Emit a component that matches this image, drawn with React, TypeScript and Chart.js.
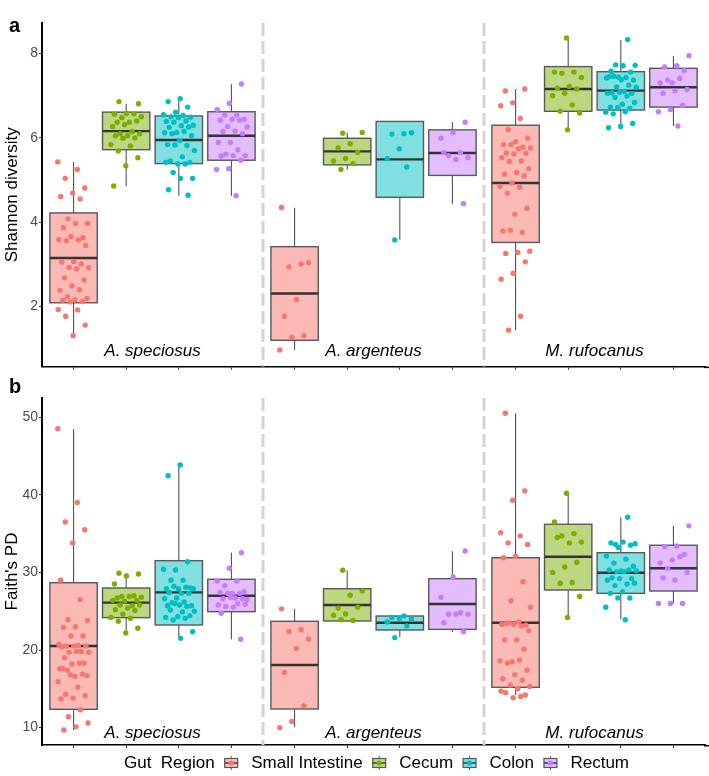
import React, { useEffect, useRef } from 'react';
import { Chart, registerables } from 'chart.js';

Chart.register(...registerables);

const FONT = '"Liberation Sans", Arial, Helvetica, sans-serif';

// ---------- categories ----------
const species = ['A. speciosus', 'A. argenteus', 'M. rufocanus'];
const regions = ['Small Intestine', 'Cecum', 'Colon', 'Rectum'];
const regionColors = ['#F8766D', '#7CAE00', '#00BFC4', '#C77CFF'];
const regionFills = ['rgba(248,118,109,0.5)', 'rgba(124,174,0,0.5)', 'rgba(0,191,196,0.5)', 'rgba(199,124,255,0.5)'];

// ---------- axis ticks / ranges ----------
const shannonTicks = [2, 4, 6, 8];
const shannonRange = [0.576, 8.724];
const faithTicks = [10, 20, 30, 40, 50];
const faithRange = [7.76, 52.47];

// ---------- Shannon diversity: box stats [lower whisker, Q1, median, Q3, upper whisker] per species ----------
const shannonBoxSI = [[1.31, 2.09, 3.15, 4.22, 5.43], [0.97, 1.2, 2.31, 3.42, 4.34], [1.44, 3.52, 4.93, 6.3, 7.16]];
const shannonBoxCecum = [[4.86, 5.72, 6.16, 6.61, 6.81], [5.25, 5.36, 5.68, 5.99, 6.12], [6.2, 6.63, 7.16, 7.69, 8.37]];
const shannonBoxColon = [[4.63, 5.39, 5.95, 6.52, 6.89], [3.59, 4.59, 5.49, 6.39, 6.39], [6.23, 6.66, 7.12, 7.57, 8.32]];
const shannonBoxRectum = [[4.63, 5.47, 6.05, 6.62, 7.27], [4.44, 5.11, 5.64, 6.19, 6.37], [6.28, 6.73, 7.2, 7.65, 7.94]];

// ---------- Shannon diversity: sample values per species ----------
const shannonPtsSI = [
  [5.43, 5.25, 5.04, 4.81, 4.69, 4.61, 4.55, 4.08, 3.97, 3.97, 3.87, 3.63, 3.66, 3.59, 3.58, 3.56, 3.45, 3.07, 3.05, 3.01, 2.93, 2.92, 2.89, 2.68, 2.63, 2.49, 2.38, 2.4, 2.23, 2.19, 2.16, 2.15, 2.12, 2.11, 1.93, 1.92, 1.77, 1.56, 1.31],
  [4.35, 3.01, 2.94, 3.04, 2.16, 1.77, 1.31, 1.27, 0.97],
  [7.11, 7.16, 6.83, 6.76, 6.46, 6.2, 5.99, 5.91, 5.84, 5.78, 5.84, 5.76, 5.74, 5.64, 5.63, 5.62, 5.53, 5.45, 5.44, 5.27, 5.18, 5.14, 5.1, 4.93, 4.85, 4.83, 4.69, 4.33, 4.19, 3.79, 3.76, 3.81, 3.31, 3.28, 3.26, 3.06, 2.79, 2.65, 1.77, 1.44],
];
const shannonPtsCecum = [
  [6.86, 6.81, 6.58, 6.56, 6.57, 6.48, 6.5, 6.37, 6.37, 6.4, 6.31, 6.27, 6.15, 6.1, 6.1, 6.05, 6.05, 6.0, 5.99, 5.84, 5.81, 5.69, 5.53, 5.34, 4.86],
  [6.11, 6.13, 5.86, 5.76, 5.66, 5.51, 5.45, 5.39, 5.25],
  [8.37, 7.56, 7.56, 7.53, 7.43, 7.22, 7.18, 7.16, 7.06, 7.0, 6.78, 6.63, 6.59, 6.19],
];
const shannonPtsColon = [
  [6.93, 6.86, 6.73, 6.61, 6.55, 6.53, 6.5, 6.49, 6.48, 6.39, 6.4, 6.37, 6.3, 6.29, 6.25, 6.26, 6.13, 6.12, 6.15, 6.1, 6.05, 5.94, 5.84, 5.82, 5.83, 5.7, 5.55, 5.45, 5.42, 5.38, 5.42, 5.38, 5.18, 5.04, 5.04, 4.77, 4.64],
  [6.1, 6.09, 6.12, 5.74, 5.51, 5.31, 3.58],
  [8.33, 7.73, 7.72, 7.71, 7.58, 7.56, 7.44, 7.42, 7.43, 7.46, 7.37, 7.38, 7.45, 7.25, 7.21, 7.2, 7.1, 7.07, 7.05, 7.08, 7.06, 6.99, 6.96, 6.84, 6.8, 6.73, 6.7, 6.72, 6.61, 6.62, 6.57, 6.34, 6.27, 6.24],
];
const shannonPtsRectum = [
  [7.28, 6.82, 6.67, 6.54, 6.54, 6.44, 6.44, 6.42, 6.42, 6.27, 6.26, 6.16, 6.15, 6.1, 5.89, 5.89, 5.72, 5.61, 5.58, 5.58, 5.57, 5.47, 5.27, 5.25, 4.63],
  [6.37, 6.12, 5.99, 5.65, 5.58, 5.53, 5.49, 5.65, 4.44],
  [7.95, 7.71, 7.68, 7.6, 7.31, 7.3, 7.41, 7.37, 7.15, 7.12, 7.06, 6.77, 6.67, 6.62, 6.28],
];

// ---------- Faith's PD: box stats ----------
const faithBoxSI = [[9.69, 12.36, 20.52, 28.67, 48.48], [10.04, 12.4, 18.07, 23.7, 25.32], [14.2, 15.19, 23.52, 31.89, 50.5]];
const faithBoxCecum = [[22.23, 24.17, 26.1, 27.99, 29.88], [23.74, 23.74, 25.8, 27.9, 30.27], [24.21, 27.73, 32.02, 36.2, 40.19]];
const faithBoxColon = [[21.5, 23.22, 27.43, 31.51, 43.8], [21.64, 22.58, 23.52, 24.38, 24.38], [23.95, 27.3, 29.96, 32.54, 37.1]];
const faithBoxRectum = [[21.38, 24.94, 27.0, 29.11, 32.54], [22.36, 22.66, 25.93, 29.19, 32.72], [26.0, 27.6, 30.53, 33.5, 36.0]];

// ---------- Faith's PD: sample values ----------
const faithPtsSI = [
  [48.5, 39.0, 36.5, 35.5, 33.8, 29.0, 26.5, 23.9, 23.8, 23.0, 22.9, 21.8, 21.8, 20.7, 20.6, 20.5, 20.5, 20.5, 20.4, 19.8, 19.7, 19.7, 19.8, 19.0, 18.3, 18.2, 17.6, 18.3, 17.4, 16.7, 16.6, 17.6, 16.9, 16.8, 15.9, 15.2, 14.3, 14.1, 13.8, 13.7, 12.3, 11.4, 10.6, 10.1, 9.7],
  [25.3, 22.6, 22.4, 21.4, 20.2, 17.1, 12.8, 10.8, 10.0],
  [50.5, 40.5, 39.3, 35.1, 34.7, 33.8, 33.6, 32.1, 31.9, 28.8, 26.35, 25.5, 23.6, 23.4, 23.2, 23.3, 23.3, 23.1, 23.5, 22.5, 21.3, 21.3, 20.1, 18.5, 18.6, 18.7, 18.3, 17.4, 16.8, 16.3, 16.1, 15.5, 15.3, 15.0, 14.5, 14.2, 13.85, 14.7, 14.0],
];
const faithPtsCecum = [
  [29.9, 29.8, 29.55, 28.5, 27.0, 26.9, 26.8, 26.9, 26.7, 26.4, 26.3, 26.4, 25.7, 25.8, 25.8, 25.4, 25.2, 25.1, 24.6, 24.2, 24.1, 23.7, 22.8, 22.2],
  [30.27, 27.6, 27.05, 25.4, 25.5, 24.64, 24.47, 23.8, 23.9],
  [40.2, 36.5, 35.0, 34.7, 33.9, 33.8, 34.5, 31.3, 30.7, 30.0, 28.7, 28.6, 26.9, 24.2],
];
const faithPtsColon = [
  [43.84, 42.46, 31.38, 30.3, 30.4, 29.0, 29.0, 28.0, 27.9, 27.9, 28.1, 28.2, 27.9, 27.3, 27.4, 27.3, 26.7, 26.6, 26.2, 26.1, 25.7, 25.8, 25.7, 25.6, 26.0, 25.0, 24.9, 25.15, 24.4, 24.3, 24.2, 24.08, 23.87, 22.36, 21.5],
  [24.4, 24.2, 24.0, 24.1, 23.6, 23.1, 21.6],
  [37.1, 33.6, 33.7, 33.9, 33.8, 33.5, 33.2, 32.1, 31.7, 31.2, 30.8, 30.2, 30.3, 30.3, 30.1, 30.2, 30.1, 29.3, 29.2, 29.2, 29.0, 28.5, 28.3, 28.6, 27.5, 27.3, 26.7, 26.7, 25.5, 23.9],
];
const faithPtsRectum = [
  [32.54, 30.53, 28.9, 28.9, 28.3, 27.5, 27.3, 27.4, 27.3, 27.3, 26.5, 26.7, 26.6, 26.6, 26.8, 25.8, 26.0, 25.6, 25.9, 25.5, 24.73, 21.38],
  [32.75, 29.4, 26.8, 24.8, 24.6, 24.6, 24.6, 23.52, 22.36],
  [36.0, 33.4, 33.3, 32.3, 31.6, 31.2, 32.0, 30.5, 30.0, 29.0, 29.3, 26.0, 26.0, 26.0],
];

// ---------- layout helpers (facets of 4 categories, ggplot-like 0.6 expansion) ----------
const FACET = 4.2;
const EXPAND = 0.6;
const BOX_HALF = 0.45;
const JITTER = 0.6;
const xOf = (s: number, r: number) => s * FACET + EXPAND + r;
const centers = species.flatMap((_, s) => regions.map((__, r) => xOf(s, r)));
const jitter = (i: number, k: number) => {
  const f = (i * 0.6180339887 + k * 0.2718281) % 1;
  return (f - 0.5) * JITTER;
};

function makeDatasets(points: number[][][]) {
  return regions.map((name, r) => ({
    label: name,
    data: points[r].flatMap((vals, s) => vals.map((v, i) => ({ x: xOf(s, r) + jitter(i, s * 4 + r), y: v }))),
    backgroundColor: regionColors[r],
    borderWidth: 0,
    pointRadius: 2.7,
    pointHoverRadius: 2.7,
  }));
}

function boxPlugin(boxes: number[][][]) {
  return {
    id: 'boxes',
    beforeDatasetsDraw(chart: any) {
      const { ctx, chartArea, scales } = chart;
      const x = scales.x;
      const y = scales.y;
      ctx.save();
      ctx.strokeStyle = '#D3D3D3';
      ctx.lineWidth = 3;
      ctx.setLineDash([13, 5]);
      [1, 2].forEach((f) => {
        const px = x.getPixelForValue(f * FACET);
        ctx.beginPath();
        ctx.moveTo(px, chartArea.top);
        ctx.lineTo(px, chartArea.bottom);
        ctx.stroke();
      });
      ctx.setLineDash([]);
      const hw = x.getPixelForValue(BOX_HALF) - x.getPixelForValue(0);
      boxes.forEach((regionBoxes, r) =>
        regionBoxes.forEach((b, s) => {
          const cx = x.getPixelForValue(xOf(s, r));
          const [lo, q1, med, q3, hi] = b.map((v) => y.getPixelForValue(v));
          ctx.strokeStyle = '#555555';
          ctx.lineWidth = 1.1;
          ctx.beginPath();
          ctx.moveTo(cx, q3);
          ctx.lineTo(cx, hi);
          ctx.moveTo(cx, q1);
          ctx.lineTo(cx, lo);
          ctx.stroke();
          ctx.fillStyle = regionFills[r];
          ctx.fillRect(cx - hw, q3, 2 * hw, q1 - q3);
          ctx.strokeStyle = '#595959';
          ctx.lineWidth = 1.4;
          ctx.strokeRect(cx - hw, q3, 2 * hw, q1 - q3);
          ctx.strokeStyle = '#333333';
          ctx.lineWidth = 2.4;
          ctx.beginPath();
          ctx.moveTo(cx - hw, med);
          ctx.lineTo(cx + hw, med);
          ctx.stroke();
        })
      );
      ctx.restore();
    },
  };
}

function labelPlugin(letter: string, letterY: number, speciesOffset: number) {
  return {
    id: 'labels',
    afterDraw(chart: any) {
      const { ctx, chartArea, scales } = chart;
      ctx.save();
      // extend the x-axis line to the right edge of the figure
      ctx.strokeStyle = '#000';
      ctx.lineWidth = 1.5;
      ctx.beginPath();
      ctx.moveTo(chartArea.right - 1, chartArea.bottom + 0.75);
      ctx.lineTo(chart.width, chartArea.bottom + 0.75);
      ctx.stroke();
      ctx.fillStyle = '#000';
      ctx.font = `bold 20px ${FONT}`;
      ctx.textAlign = 'left';
      ctx.textBaseline = 'alphabetic';
      ctx.fillText(letter, 9, letterY);
      ctx.font = `italic 17px ${FONT}`;
      ctx.textAlign = 'center';
      ctx.textBaseline = 'middle';
      species.forEach((sp, s) => {
        const px = scales.x.getPixelForValue(s * FACET + FACET / 2);
        ctx.fillText(sp, px, chartArea.bottom - speciesOffset);
      });
      ctx.restore();
    },
  };
}

const legendPlugin = {
  id: 'gutLegend',
  afterDraw(chart: any) {
    const { ctx, chartArea } = chart;
    ctx.save();
    ctx.font = `17px ${FONT}`;
    ctx.textBaseline = 'middle';
    ctx.textAlign = 'left';
    const title = 'Gut  Region';
    const iconW = 13;
    const gapIT = 13.5;
    const gapTI = 10;
    const widths = regions.map((r) => ctx.measureText(r).width);
    const titleW = ctx.measureText(title).width;
    const total = titleW + widths.reduce((a, w) => a + gapTI + iconW + gapIT + w, 0);
    let xp = (chartArea.left + chartArea.right) / 2 + 3 - total / 2;
    const yp = chartArea.bottom + 18;
    ctx.fillStyle = '#000';
    ctx.fillText(title, xp, yp);
    xp += titleW;
    regions.forEach((name, r) => {
      xp += gapTI;
      const cx = xp + iconW / 2;
      ctx.strokeStyle = '#555555';
      ctx.lineWidth = 1;
      ctx.beginPath();
      ctx.moveTo(cx, yp - 7);
      ctx.lineTo(cx, yp + 7);
      ctx.stroke();
      ctx.fillStyle = '#ffffff';
      ctx.fillRect(xp, yp - 4.5, iconW, 9);
      ctx.fillStyle = regionFills[r];
      ctx.fillRect(xp, yp - 4.5, iconW, 9);
      ctx.strokeStyle = '#595959';
      ctx.lineWidth = 1.2;
      ctx.strokeRect(xp, yp - 4.5, iconW, 9);
      ctx.strokeStyle = '#333333';
      ctx.lineWidth = 1.4;
      ctx.beginPath();
      ctx.moveTo(xp, yp);
      ctx.lineTo(xp + iconW, yp);
      ctx.stroke();
      ctx.fillStyle = regionColors[r];
      ctx.beginPath();
      ctx.arc(cx, yp, 2.6, 0, Math.PI * 2);
      ctx.fill();
      xp += iconW + gapIT;
      ctx.fillStyle = '#000';
      ctx.fillText(name, xp, yp);
      xp += widths[r];
    });
    ctx.restore();
  },
};

function makeConfig(opts: {
  points: number[][][];
  boxes: number[][][];
  ticks: number[];
  range: number[];
  title: string;
  padTop: number;
  xHeight: number;
  letter: string;
  letterY: number;
  speciesOffset: number;
  withLegend: boolean;
}): any {
  const plugins: any[] = [boxPlugin(opts.boxes), labelPlugin(opts.letter, opts.letterY, opts.speciesOffset)];
  if (opts.withLegend) plugins.push(legendPlugin);
  return {
    type: 'scatter',
    data: { datasets: makeDatasets(opts.points) },
    plugins,
    options: {
      animation: false,
      responsive: true,
      maintainAspectRatio: false,
      events: [],
      layout: { padding: { top: opts.padTop, right: 4, left: 0, bottom: 0 } },
      plugins: { legend: { display: false }, tooltip: { enabled: false } },
      scales: {
        x: {
          type: 'linear',
          min: 0,
          max: FACET * 3,
          afterBuildTicks: (s: any) => {
            s.ticks = centers.map((v) => ({ value: v }));
          },
          afterFit: (s: any) => {
            s.height = opts.xHeight;
          },
          border: { display: true, color: '#000', width: 1.5 },
          grid: { drawOnChartArea: false, drawTicks: true, tickLength: 3, color: '#333333' },
          ticks: { display: false },
        },
        y: {
          type: 'linear',
          min: opts.range[0],
          max: opts.range[1],
          afterBuildTicks: (s: any) => {
            s.ticks = opts.ticks.map((v) => ({ value: v }));
          },
          afterFit: (s: any) => {
            s.width = 42;
          },
          border: { display: true, color: '#000', width: 2 },
          grid: { drawOnChartArea: false, drawTicks: true, tickLength: 3, color: '#333333' },
          ticks: { color: '#4D4D4D', font: { size: 14, family: FONT }, padding: 1 },
          title: {
            display: true,
            text: opts.title,
            color: '#000',
            font: { size: 17, family: FONT },
            padding: { top: 2, bottom: 0 },
          },
        },
      },
    },
  };
}

export default function App() {
  const ref1 = useRef<HTMLCanvasElement>(null);
  const ref2 = useRef<HTMLCanvasElement>(null);

  useEffect(() => {
    const c1 = new Chart(
      ref1.current as HTMLCanvasElement,
      makeConfig({
        points: [shannonPtsSI, shannonPtsCecum, shannonPtsColon, shannonPtsRectum],
        boxes: [shannonBoxSI, shannonBoxCecum, shannonBoxColon, shannonBoxRectum],
        ticks: shannonTicks,
        range: shannonRange,
        title: 'Shannon diversity',
        padTop: 23,
        xHeight: 4,
        letter: 'a',
        letterY: 32,
        speciesOffset: 15,
        withLegend: false,
      })
    );
    const c2 = new Chart(
      ref2.current as HTMLCanvasElement,
      makeConfig({
        points: [faithPtsSI, faithPtsCecum, faithPtsColon, faithPtsRectum],
        boxes: [faithBoxSI, faithBoxCecum, faithBoxColon, faithBoxRectum],
        ticks: faithTicks,
        range: faithRange,
        title: "Faith's PD",
        padTop: 22,
        xHeight: 31,
        letter: 'b',
        letterY: 17,
        speciesOffset: 12,
        withLegend: true,
      })
    );
    return () => {
      c1.destroy();
      c2.destroy();
    };
  }, []);

  return (
    <div style={{ position: 'absolute', left: 0, top: 0, width: 709, height: 776, background: '#ffffff' }}>
      <div style={{ position: 'absolute', left: 0, top: 0, width: 709, height: 376 }}>
        <canvas ref={ref1} />
      </div>
      <div style={{ position: 'absolute', left: 0, top: 376, width: 709, height: 400 }}>
        <canvas ref={ref2} />
      </div>
    </div>
  );
}
